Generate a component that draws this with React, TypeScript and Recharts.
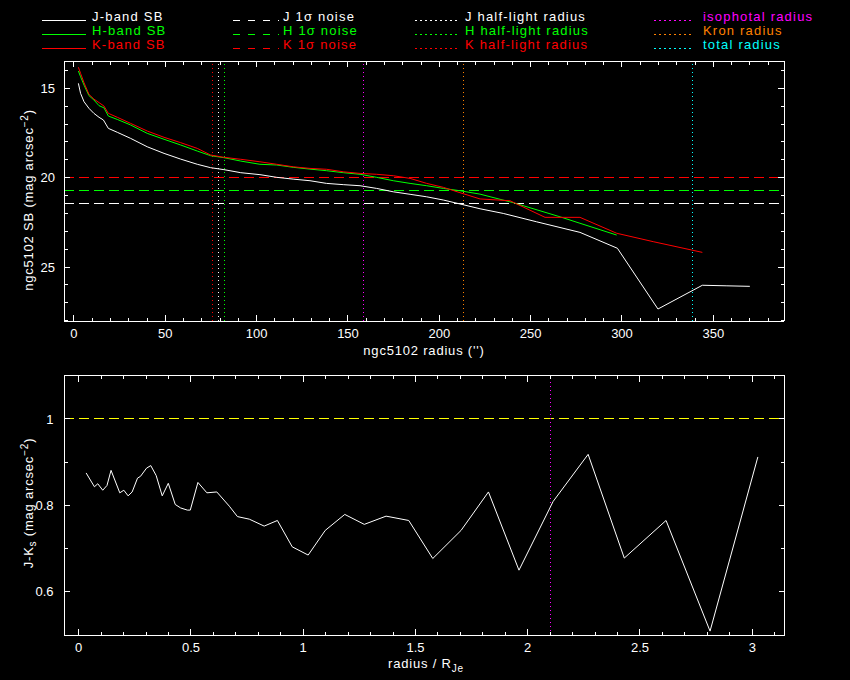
import React from 'react';
import { LineChart, Line, XAxis, YAxis, ReferenceLine } from 'recharts';

const FONT = '"Liberation Sans", Arial, sans-serif';
const WHITE = '#ffffff';
const GREEN = '#00ff00';
const RED = '#ff0000';
const MAGENTA = '#ff00ff';
const ORANGE = '#ff8000';
const CYAN = '#00ffff';
const YELLOW = '#ffff00';

// ---- top panel: surface brightness profiles ----
const jRadius = [2.4, 3.6, 5.5, 8.2, 10.9, 13.7, 16.1, 18.8, 23.7, 31, 40.1, 49.3, 58.4, 67.5, 74.8, 82.1, 91.3, 101.8, 111, 120, 129.2, 138.3, 147.4, 156.6, 165.7, 174.8, 184, 193.1, 202.2, 211.3, 222.3, 235, 253.3, 277, 297.5, 319.7, 344, 357, 370];
const jSB = [14.72, 15.28, 15.75, 16.12, 16.4, 16.62, 16.77, 17.24, 17.46, 17.8, 18.27, 18.64, 18.96, 19.25, 19.44, 19.55, 19.72, 19.83, 19.98, 20.08, 20.17, 20.32, 20.39, 20.45, 20.6, 20.79, 20.93, 21.07, 21.25, 21.47, 21.74, 22.0, 22.47, 23.06, 23.95, 27.35, 26.02, 26.05, 26.08];

const hRadius = [2.4, 3.6, 5.5, 8.2, 10.9, 13.7, 16.4, 18.8, 23.7, 31, 40.1, 49.3, 58.4, 67.5, 74.8, 82.1, 91.3, 101.8, 111, 120, 129.2, 138.3, 147.4, 156.6, 165.7, 174.8, 184, 193.1, 202.2, 211.3, 222.3, 240.5, 266.1, 277, 297.1];
const hSB = [14.03, 14.35, 14.82, 15.41, 15.65, 15.97, 16.09, 16.55, 16.74, 17.05, 17.52, 17.85, 18.17, 18.51, 18.77, 18.88, 19.07, 19.25, 19.29, 19.42, 19.52, 19.61, 19.72, 19.81, 19.98, 20.17, 20.32, 20.45, 20.6, 20.73, 20.92, 21.4, 22.19, 22.55, 23.21];

const kRadius = [2.4, 3.6, 5.5, 8.2, 10.9, 13.7, 16.4, 18.8, 23.7, 31, 40.1, 49.3, 58.4, 67.5, 74.8, 82.1, 91.3, 101.8, 111, 120, 129.2, 138.3, 147.4, 156.6, 165.7, 174.8, 184, 193.1, 202.2, 211.3, 222.3, 238.7, 257.9, 277, 297.1, 317.1, 338.2, 344];
const kSB = [13.82, 14.16, 14.69, 15.34, 15.6, 15.8, 15.99, 16.4, 16.62, 16.96, 17.39, 17.74, 18.04, 18.36, 18.73, 18.86, 18.97, 19.11, 19.25, 19.39, 19.48, 19.53, 19.67, 19.76, 19.81, 19.89, 20.04, 20.32, 20.54, 20.84, 21.19, 21.29, 22.22, 22.22, 23.11, 23.58, 24.05, 24.18];

const noiseJ = 21.44;
const noiseH = 20.73;
const noiseK = 19.98;
const halfLightJ = 79.2;
const halfLightH = 82.5;
const halfLightK = 75.7;
const isophotalRadius = 158.4;
const kronRadius = 213.1;
const totalRadius = 338.6;

// ---- bottom panel: J-Ks colour profile ----
const colourRadius = [0.033, 0.07, 0.085, 0.107, 0.126, 0.144, 0.183, 0.201, 0.22, 0.238, 0.262, 0.275, 0.302, 0.321, 0.345, 0.372, 0.399, 0.43, 0.454, 0.484, 0.497, 0.531, 0.571, 0.615, 0.671, 0.707, 0.76, 0.826, 0.885, 0.951, 1.022, 1.098, 1.185, 1.272, 1.369, 1.47, 1.577, 1.703, 1.825, 1.961, 2.113, 2.269, 2.43, 2.616, 2.812, 3.025];
const colourJK = [0.875, 0.843, 0.85, 0.835, 0.846, 0.881, 0.829, 0.835, 0.822, 0.831, 0.863, 0.867, 0.886, 0.892, 0.869, 0.822, 0.851, 0.802, 0.794, 0.789, 0.789, 0.853, 0.829, 0.831, 0.798, 0.774, 0.768, 0.752, 0.765, 0.704, 0.685, 0.742, 0.779, 0.756, 0.775, 0.765, 0.677, 0.742, 0.831, 0.65, 0.809, 0.918, 0.678, 0.765, 0.509, 0.912];
const colourRef = 1;
const colourIsoRadius = 2.1;

// ---- ticks ----
const topXMajor = [0, 50, 100, 150, 200, 250, 300, 350];
const topXTicks = [0, 10, 20, 30, 40, 50, 60, 70, 80, 90, 100, 110, 120, 130, 140, 150, 160, 170, 180, 190, 200, 210, 220, 230, 240, 250, 260, 270, 280, 290, 300, 310, 320, 330, 340, 350, 360, 370, 380];
const topYMajor = [15, 20, 25];
const topYTicks = [14, 15, 16, 17, 18, 19, 20, 21, 22, 23, 24, 25, 26, 27, 28];
const botXMajor = [0, 0.5, 1, 1.5, 2, 2.5, 3];
const botXTicks = [0, 0.1, 0.2, 0.3, 0.4, 0.5, 0.6, 0.7, 0.8, 0.9, 1, 1.1, 1.2, 1.3, 1.4, 1.5, 1.6, 1.7, 1.8, 1.9, 2, 2.1, 2.2, 2.3, 2.4, 2.5, 2.6, 2.7, 2.8, 2.9, 3, 3.1];
const botYMajor = [0.6, 0.8, 1];
const botYTicks = [0.6, 0.7, 0.8, 0.9, 1];

const toPoints = (xs: number[], ys: number[]) => xs.map((x, i) => ({ x, y: ys[i] }));
const jData = toPoints(jRadius, jSB);
const hData = toPoints(hRadius, hSB);
const kData = toPoints(kRadius, kSB);
const cData = toPoints(colourRadius, colourJK);

const snap = (v: number) => Math.floor(v) + 0.5;

type Side = 'bottom' | 'top' | 'left' | 'right';
const makeTick = (side: Side, majors: number[], labelGap: number, showLabel: boolean) => (props: any) => {
  const { x, y, payload } = props;
  const v = payload.value as number;
  const major = majors.some((m) => Math.abs(m - v) < 1e-6);
  const len = major ? 6 : 3.5;
  let line: React.ReactNode = null;
  let label: React.ReactNode = null;
  const textProps = { fill: WHITE, fontSize: 13, fontFamily: FONT };
  const sx = snap(x);
  const sy = snap(y);
  if (side === 'bottom') {
    line = <line x1={sx} x2={sx} y1={y} y2={y - len} stroke={WHITE} shapeRendering="crispEdges" />;
    if (showLabel && major) label = <text x={x} y={y + labelGap} textAnchor="middle" {...textProps}>{String(v)}</text>;
  } else if (side === 'top') {
    line = <line x1={sx} x2={sx} y1={y} y2={y + len} stroke={WHITE} shapeRendering="crispEdges" />;
  } else if (side === 'left') {
    line = <line x1={x} x2={x + len} y1={sy} y2={sy} stroke={WHITE} shapeRendering="crispEdges" />;
    if (showLabel && major) label = <text x={x - labelGap} y={y + 4.6} textAnchor="end" {...textProps}>{String(v)}</text>;
  } else {
    line = <line x1={x} x2={x - len} y1={sy} y2={sy} stroke={WHITE} shapeRendering="crispEdges" />;
  }
  return (
    <g>
      {line}
      {label}
    </g>
  );
};

// reference line drawn at the coordinates Recharts computes, snapped to the pixel grid
const crispRefLine = (props: any) => {
  const { x1, y1, x2, y2, stroke, strokeDasharray } = props;
  const horizontal = Math.abs(y1 - y2) < 1e-6;
  const ax1 = horizontal ? x1 : snap(x1);
  const ax2 = horizontal ? x2 : snap(x2);
  const ay1 = horizontal ? snap(y1) : y1;
  const ay2 = horizontal ? snap(y2) : y2;
  return (
    <line x1={ax1} y1={ay1} x2={ax2} y2={ay2} stroke={stroke} strokeWidth={1} strokeDasharray={strokeDasharray} shapeRendering="crispEdges" className="recharts-reference-line-line" />
  );
};

const axisCommon = {
  tickLine: false,
  tickSize: 0,
  tickMargin: 0,
  interval: 0 as const,
  allowDataOverflow: true,
  stroke: WHITE,
  axisLine: { stroke: WHITE, shapeRendering: 'crispEdges' },
};

const TOP_X_DOMAIN: [number, number] = [-5.47, 388.7];
const TOP_Y_DOMAIN: [number, number] = [13.47, 28.02];
const BOT_X_DOMAIN: [number, number] = [-0.0655, 3.1445];
const BOT_Y_DOMAIN: [number, number] = [0.5, 1.1];

const dotted = '1.5 2.5';
const dashed = '10 5';

function TopChart() {
  return (
    <LineChart width={850} height={370} margin={{ top: 56, left: 14, right: 61, bottom: 19 }}>
      <XAxis xAxisId="b" type="number" dataKey="x" orientation="bottom" height={30} domain={TOP_X_DOMAIN} ticks={topXTicks} tick={makeTick('bottom', topXMajor, 16.7, true)} {...axisCommon} />
      <XAxis xAxisId="t" type="number" dataKey="x" orientation="top" height={5} domain={TOP_X_DOMAIN} ticks={topXTicks} tick={makeTick('top', topXMajor, 0, false)} {...axisCommon} />
      <YAxis yAxisId="l" type="number" orientation="left" width={50} reversed domain={TOP_Y_DOMAIN} ticks={topYTicks} tick={makeTick('left', topYMajor, 9, true)} {...axisCommon} />
      <YAxis yAxisId="r" type="number" orientation="right" width={5} reversed domain={TOP_Y_DOMAIN} ticks={topYTicks} tick={makeTick('right', topYMajor, 0, false)} {...axisCommon} />

      <ReferenceLine xAxisId="b" yAxisId="l" y={noiseK} stroke={RED} strokeDasharray={dashed} shape={crispRefLine} />
      <ReferenceLine xAxisId="b" yAxisId="l" y={noiseH} stroke={GREEN} strokeDasharray={dashed} shape={crispRefLine} />
      <ReferenceLine xAxisId="b" yAxisId="l" y={noiseJ} stroke={WHITE} strokeDasharray={dashed} shape={crispRefLine} />
      <ReferenceLine xAxisId="b" yAxisId="l" x={halfLightK} stroke={RED} strokeDasharray={dotted} shape={crispRefLine} />
      <ReferenceLine xAxisId="b" yAxisId="l" x={halfLightJ} stroke={WHITE} strokeDasharray={dotted} shape={crispRefLine} />
      <ReferenceLine xAxisId="b" yAxisId="l" x={halfLightH} stroke={GREEN} strokeDasharray={dotted} shape={crispRefLine} />
      <ReferenceLine xAxisId="b" yAxisId="l" x={isophotalRadius} stroke={MAGENTA} strokeDasharray={dotted} shape={crispRefLine} />
      <ReferenceLine xAxisId="b" yAxisId="l" x={kronRadius} stroke={ORANGE} strokeDasharray={dotted} shape={crispRefLine} />
      <ReferenceLine xAxisId="b" yAxisId="l" x={totalRadius} stroke={CYAN} strokeDasharray={dotted} shape={crispRefLine} />

      <Line xAxisId="b" yAxisId="l" data={jData} dataKey="y" type="linear" stroke={WHITE} strokeWidth={1} dot={false} activeDot={false} isAnimationActive={false} />
      <Line xAxisId="b" yAxisId="l" data={hData} dataKey="y" type="linear" stroke={GREEN} strokeWidth={1} dot={false} activeDot={false} isAnimationActive={false} />
      <Line xAxisId="b" yAxisId="l" data={kData} dataKey="y" type="linear" stroke={RED} strokeWidth={1} dot={false} activeDot={false} isAnimationActive={false} />
    </LineChart>
  );
}

function BottomChart() {
  return (
    <LineChart width={850} height={315} margin={{ top: 5.7, left: 14, right: 60.3, bottom: 15 }}>
      <XAxis xAxisId="b" type="number" dataKey="x" orientation="bottom" height={30} domain={BOT_X_DOMAIN} ticks={botXTicks} tick={makeTick('bottom', botXMajor, 16.7, true)} {...axisCommon} />
      <XAxis xAxisId="t" type="number" dataKey="x" orientation="top" height={5} domain={BOT_X_DOMAIN} ticks={botXTicks} tick={makeTick('top', botXMajor, 0, false)} {...axisCommon} />
      <YAxis yAxisId="l" type="number" orientation="left" width={50} domain={BOT_Y_DOMAIN} ticks={botYTicks} tick={makeTick('left', botYMajor, 10.5, true)} {...axisCommon} />
      <YAxis yAxisId="r" type="number" orientation="right" width={5} domain={BOT_Y_DOMAIN} ticks={botYTicks} tick={makeTick('right', botYMajor, 0, false)} {...axisCommon} />

      <ReferenceLine xAxisId="b" yAxisId="l" y={colourRef} stroke={YELLOW} strokeDasharray={dashed} shape={crispRefLine} />
      <ReferenceLine xAxisId="b" yAxisId="l" x={colourIsoRadius} stroke={MAGENTA} strokeDasharray={dotted} shape={crispRefLine} />

      <Line xAxisId="b" yAxisId="l" data={cData} dataKey="y" type="linear" stroke={WHITE} strokeWidth={1} dot={false} activeDot={false} isAnimationActive={false} />
    </LineChart>
  );
}

const legendRows = [
  { y: 20, solid: 'J-band SB', noise: 'J 1σ noise', half: 'J half-light radius', color: WHITE },
  { y: 34, solid: 'H-band SB', noise: 'H 1σ noise', half: 'H half-light radius', color: GREEN },
  { y: 48, solid: 'K-band SB', noise: 'K 1σ noise', half: 'K half-light radius', color: RED },
];
const legendRadii = [
  { y: 20, label: 'isophotal radius', color: MAGENTA },
  { y: 34, label: 'Kron radius', color: ORANGE },
  { y: 48, label: 'total radius', color: CYAN },
];

function Overlay() {
  const lt = { fontSize: 13, fontFamily: FONT, letterSpacing: 1.2 };
  const tt = { fontSize: 13, fontFamily: FONT, letterSpacing: 0.8, fill: WHITE };
  return (
    <svg width={850} height={680} style={{ position: 'absolute', left: 0, top: 0, pointerEvents: 'none' }}>
      {legendRows.map((r) => (
        <g key={r.solid}>
          <line x1={42} x2={86} y1={r.y + 0.5} y2={r.y + 0.5} stroke={r.color} shapeRendering="crispEdges" />
          <text x={92} y={r.y + 1} fill={r.color} {...lt}>{r.solid}</text>
          <line x1={233} x2={279} y1={r.y + 0.5} y2={r.y + 0.5} stroke={r.color} strokeDasharray="7 8" shapeRendering="crispEdges" />
          <text x={283} y={r.y + 1} fill={r.color} {...lt}>{r.noise}</text>
          <line x1={415} x2={458} y1={r.y + 0.5} y2={r.y + 0.5} stroke={r.color} strokeDasharray="1.5 3.5" shapeRendering="crispEdges" />
          <text x={465} y={r.y + 1} fill={r.color} {...lt}>{r.half}</text>
        </g>
      ))}
      {legendRadii.map((r) => (
        <g key={r.label}>
          <line x1={654} x2={694} y1={r.y + 0.5} y2={r.y + 0.5} stroke={r.color} strokeDasharray="1.5 3.5" shapeRendering="crispEdges" />
          <text x={703} y={r.y + 1} fill={r.color} {...lt}>{r.label}</text>
        </g>
      ))}

      <text x={424} y={355} textAnchor="middle" {...tt}>ngc5102 radius ('')</text>
      <text transform="translate(33,200) rotate(-90)" textAnchor="middle" {...tt}>
        ngc5102 SB (mag arcsec<tspan dy={-5} fontSize={10}>−2</tspan><tspan dy={5}>)</tspan>
      </text>

      <text x={426} y={668} textAnchor="middle" {...tt}>
        radius / R<tspan dy={4} fontSize={10}>Je</tspan>
      </text>
      <text transform="translate(33,503) rotate(-90)" textAnchor="middle" {...tt}>
        J-K<tspan dy={3} fontSize={10}>s</tspan><tspan dy={-3}> (mag arcsec</tspan><tspan dy={-5} fontSize={10}>−2</tspan><tspan dy={5}>)</tspan>
      </text>
    </svg>
  );
}

export default function App() {
  return (
    <div style={{ position: 'absolute', left: 0, top: 0, width: 850, height: 680, background: '#000', overflow: 'hidden' }}>
      <div style={{ position: 'absolute', left: 0, top: 0 }}>
        <TopChart />
      </div>
      <div style={{ position: 'absolute', left: 0, top: 365 }}>
        <BottomChart />
      </div>
      <Overlay />
    </div>
  );
}
